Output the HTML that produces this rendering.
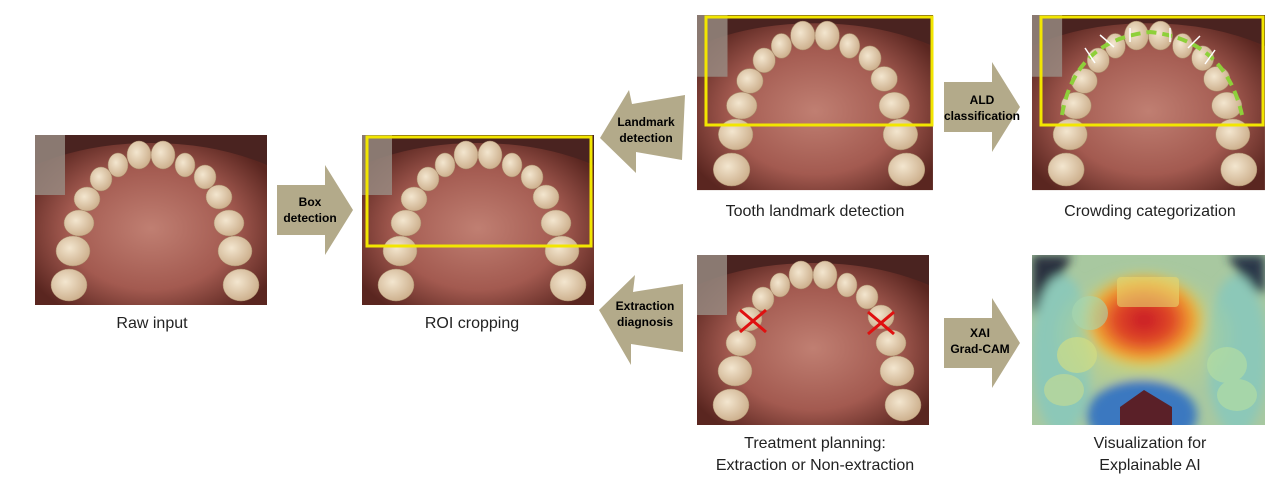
<!DOCTYPE html>
<html><head><meta charset="utf-8"><style>
body{margin:0;background:#fff;width:1285px;height:487px;overflow:hidden}
svg{display:block}
text{font-family:"Liberation Sans","DejaVu Sans",sans-serif}
</style></head><body>
<svg width="1285" height="487" viewBox="0 0 1285 487" xmlns="http://www.w3.org/2000/svg">
<defs>
<radialGradient id="pal" cx="0.5" cy="0.55" r="0.6">
<stop offset="0" stop-color="#c07f72"/><stop offset="0.6" stop-color="#a35a50"/><stop offset="1" stop-color="#5a2620"/>
</radialGradient>
<radialGradient id="tooth" cx="0.4" cy="0.4" r="0.7">
<stop offset="0" stop-color="#f3e6cf"/><stop offset="1" stop-color="#c8a985"/>
</radialGradient>
<radialGradient id="hot" cx="0.5" cy="0.5" r="0.5">
<stop offset="0" stop-color="#c81828"/><stop offset="0.45" stop-color="#e04a28"/><stop offset="0.75" stop-color="#f0a030"/><stop offset="1" stop-color="#e8d040" stop-opacity="0"/>
</radialGradient>
<radialGradient id="yel" cx="0.5" cy="0.5" r="0.5">
<stop offset="0" stop-color="#e8d860"/><stop offset="1" stop-color="#c8d880" stop-opacity="0"/>
</radialGradient>
<filter id="blur"><feGaussianBlur stdDeviation="5"/></filter>
<g id="mouth">
<rect width="232" height="170" fill="url(#pal)"/>
<path d="M0 0H232V30Q180 8 116 8Q52 8 0 30Z" fill="#4a2320"/>
<path d="M0 0H30V60L0 60Z" fill="#9a8f86" opacity="0.8"/>
<g fill="url(#tooth)" stroke="#a88a6a" stroke-width="0.5">
<ellipse cx="104" cy="20" rx="12" ry="14"/><ellipse cx="128" cy="20" rx="12" ry="14"/>
<ellipse cx="83" cy="30" rx="10" ry="12"/><ellipse cx="150" cy="30" rx="10" ry="12"/>
<ellipse cx="66" cy="44" rx="11" ry="12"/><ellipse cx="170" cy="42" rx="11" ry="12"/>
<ellipse cx="52" cy="64" rx="13" ry="12"/><ellipse cx="184" cy="62" rx="13" ry="12"/>
<ellipse cx="44" cy="88" rx="15" ry="13"/><ellipse cx="194" cy="88" rx="15" ry="13"/>
<ellipse cx="38" cy="116" rx="17" ry="15"/><ellipse cx="200" cy="116" rx="17" ry="15"/>
<ellipse cx="34" cy="150" rx="18" ry="16"/><ellipse cx="206" cy="150" rx="18" ry="16"/>
</g>
</g>
<g id="arrR"><path d="M0 20H48V0L76 45L48 90V70H0Z" fill="#b3aa8a"/></g>
</defs>

<!-- images -->
<use href="#mouth" x="35" y="135"/>
<use href="#mouth" x="362" y="135"/>
<rect x="367" y="137" width="224" height="109" fill="none" stroke="#f2e600" stroke-width="3"/>
<g transform="translate(697,15) scale(1.017,1.03)"><use href="#mouth"/></g>
<rect x="706" y="17" width="226" height="108" fill="none" stroke="#f2e600" stroke-width="3"/>
<g transform="translate(1032,15) scale(1.004,1.03)"><use href="#mouth"/></g>
<rect x="1041" y="17" width="222" height="108" fill="none" stroke="#f2e600" stroke-width="3"/>
<path d="M1062 115Q1075 40 1150 32Q1225 40 1242 115" fill="none" stroke="#8ed03a" stroke-width="4" stroke-dasharray="10 6"/>
<g fill="none" stroke="#fff" stroke-width="1.5">
<path d="M1085 48l10 15M1100 35l14 12M1130 28v14M1170 28v14M1200 36l-12 12M1215 50l-10 14"/>
</g>
<use href="#mouth" x="697" y="255"/>
<g stroke="#e01010" stroke-width="3"><path d="M740 310l26 22M766 310l-26 22M868 312l26 22M894 312l-26 22"/></g>

<!-- heatmap -->
<svg x="1032" y="255" width="233" height="170" viewBox="0 0 233 170">
<rect width="233" height="170" fill="#a8c8a0"/>
<g filter="url(#blur)">
<path d="M0 0H40L20 40L0 60Z" fill="#2a3040"/>
<path d="M233 0H195L215 30L233 40Z" fill="#2a3848"/>
<ellipse cx="30" cy="100" rx="30" ry="80" fill="#8cc8b8"/>
<ellipse cx="205" cy="100" rx="30" ry="80" fill="#8cc8b8"/>
<ellipse cx="112" cy="80" rx="95" ry="70" fill="url(#yel)"/>
<ellipse cx="112" cy="65" rx="65" ry="50" fill="url(#hot)"/>
<ellipse cx="110" cy="160" rx="55" ry="35" fill="#3a78c0"/>
</g>
<g fill="#c8dc90" opacity="0.6">
<rect x="85" y="22" width="62" height="30" rx="4" fill="#e8d870"/>
<ellipse cx="58" cy="58" rx="18" ry="17" fill="#a8d8b0"/>
<ellipse cx="45" cy="100" rx="20" ry="18" fill="#d8e080"/>
<ellipse cx="32" cy="135" rx="20" ry="16"/>
<ellipse cx="195" cy="110" rx="20" ry="18" fill="#b8e0a0"/>
<ellipse cx="205" cy="140" rx="20" ry="16" fill="#b8e0a0"/>
</g>
<path d="M88 170V152L112 135L140 152V170Z" fill="#5a2028"/>
</svg>

<!-- arrows -->
<use href="#arrR" x="277" y="165"/>
<text x="310" y="206" font-size="12" font-weight="bold" text-anchor="middle">Box</text>
<text x="310" y="222" font-size="12" font-weight="bold" text-anchor="middle">detection</text>
<polygon points="600,138 629,90 632,104 685,95 682,160 636,152 636,173" fill="#b3aa8a"/>
<text x="646" y="126" font-size="12" font-weight="bold" text-anchor="middle">Landmark</text>
<text x="646" y="142" font-size="12" font-weight="bold" text-anchor="middle">detection</text>
<polygon points="599,310 635,275 633,292 683,284 683,352 631,344 631,365" fill="#b3aa8a"/>
<text x="645" y="310" font-size="12" font-weight="bold" text-anchor="middle">Extraction</text>
<text x="645" y="326" font-size="12" font-weight="bold" text-anchor="middle">diagnosis</text>
<use href="#arrR" x="944" y="62"/>
<text x="982" y="104" font-size="12" font-weight="bold" text-anchor="middle">ALD</text>
<text x="982" y="120" font-size="12" font-weight="bold" text-anchor="middle">classification</text>
<use href="#arrR" x="944" y="298"/>
<text x="980" y="337" font-size="12" font-weight="bold" text-anchor="middle">XAI</text>
<text x="980" y="353" font-size="12" font-weight="bold" text-anchor="middle">Grad-CAM</text>

<!-- labels -->
<g font-size="16" fill="#222" text-anchor="middle">
<text x="152" y="328">Raw input</text>
<text x="472" y="328">ROI cropping</text>
<text x="815" y="216">Tooth landmark detection</text>
<text x="1150" y="216">Crowding categorization</text>
<text x="815" y="448">Treatment planning:</text>
<text x="815" y="470">Extraction or Non-extraction</text>
<text x="1150" y="448">Visualization for</text>
<text x="1150" y="470">Explainable AI</text>
</g>
</svg>
</body></html>
